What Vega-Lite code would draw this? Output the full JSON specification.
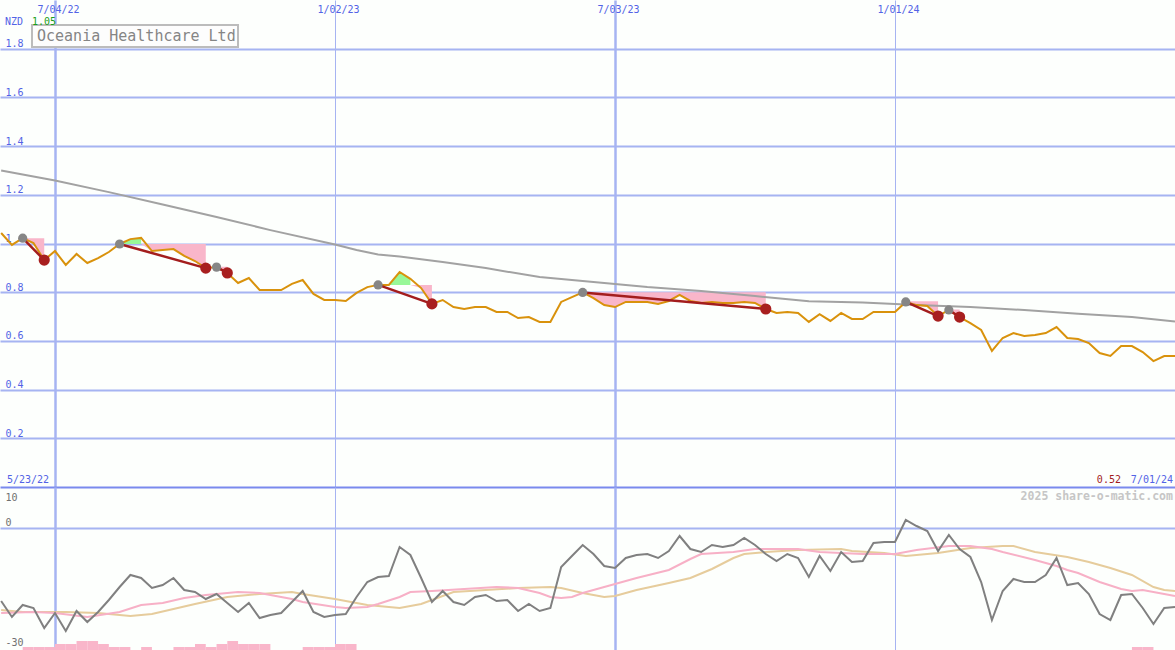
{
  "$schema": "https://vega.github.io/schema/vega-lite/v6.json",
  "background": "#fdfffd",
  "padding": 0,
  "spacing": 0,
  "config": {
    "view": {"stroke": null},
    "font": "DejaVu Sans Mono",
    "axis": {"domain": false, "ticks": false, "tickSize": 0, "labelFont": "DejaVu Sans Mono", "labelFontSize": 10, "labelOverlap": false, "labelFlush": false}
  },
  "datasets": {
    "w": [
      {"d":"2022-05-30","p":1.043,"o":-18.25},{"d":"2022-06-06","p":0.994,"o":-22.25},{"d":"2022-06-13","p":1.022,"o":-19.25},{"d":"2022-06-20","p":1.002,"o":-20},
      {"d":"2022-06-27","p":0.932,"o":-25},{"d":"2022-07-04","p":0.969,"o":-21.25},{"d":"2022-07-11","p":0.912,"o":-25.75},{"d":"2022-07-18","p":0.957,"o":-20.75},
      {"d":"2022-07-25","p":0.920,"o":-23.5},{"d":"2022-08-01","p":0.940,"o":-21},{"d":"2022-08-08","p":0.965,"o":-18},{"d":"2022-08-15","p":0.998,"o":-14.75},
      {"d":"2022-08-22","p":1.018,"o":-11.75},{"d":"2022-08-29","p":1.023,"o":-12.5},{"d":"2022-09-05","p":0.969,"o":-15},{"d":"2022-09-12","p":0.973,"o":-14.25},
      {"d":"2022-09-19","p":0.977,"o":-12.5},{"d":"2022-09-26","p":0.949,"o":-15.5},{"d":"2022-10-03","p":0.928,"o":-16},{"d":"2022-10-10","p":0.899,"o":-17.75},
      {"d":"2022-10-17","p":0.903,"o":-16.5},{"d":"2022-10-24","p":0.879,"o":-18.75},{"d":"2022-10-31","p":0.838,"o":-21},{"d":"2022-11-07","p":0.858,"o":-18.75},
      {"d":"2022-11-14","p":0.809,"o":-22.5},{"d":"2022-11-21","p":0.809,"o":-21.75},{"d":"2022-11-28","p":0.809,"o":-21.25},{"d":"2022-12-05","p":0.834,"o":-18.5},
      {"d":"2022-12-12","p":0.850,"o":-15.75},{"d":"2022-12-19","p":0.793,"o":-21},{"d":"2022-12-26","p":0.768,"o":-22.25},{"d":"2023-01-02","p":0.768,"o":-21.75},
      {"d":"2023-01-09","p":0.764,"o":-21.5},{"d":"2023-01-16","p":0.797,"o":-17.25},{"d":"2023-01-23","p":0.821,"o":-13.5},{"d":"2023-01-30","p":0.830,"o":-12.25},
      {"d":"2023-02-06","p":0.830,"o":-12},{"d":"2023-02-13","p":0.883,"o":-4.75},{"d":"2023-02-20","p":0.855,"o":-6.75},{"d":"2023-02-27","p":0.817,"o":-12.5},
      {"d":"2023-03-06","p":0.752,"o":-18.5},{"d":"2023-03-13","p":0.768,"o":-15.75},{"d":"2023-03-20","p":0.739,"o":-18.5},{"d":"2023-03-27","p":0.731,"o":-19.25},
      {"d":"2023-04-03","p":0.739,"o":-17.25},{"d":"2023-04-10","p":0.739,"o":-16.75},{"d":"2023-04-17","p":0.719,"o":-18.25},{"d":"2023-04-24","p":0.719,"o":-18},
      {"d":"2023-05-01","p":0.694,"o":-20.75},{"d":"2023-05-08","p":0.698,"o":-19},{"d":"2023-05-15","p":0.678,"o":-20.75},{"d":"2023-05-22","p":0.678,"o":-20},
      {"d":"2023-05-29","p":0.760,"o":-9.75},{"d":"2023-06-05","p":0.780,"o":-7},{"d":"2023-06-12","p":0.799,"o":-4.25},{"d":"2023-06-19","p":0.776,"o":-6.5},
      {"d":"2023-06-26","p":0.747,"o":-9.5},{"d":"2023-07-03","p":0.739,"o":-10},{"d":"2023-07-10","p":0.760,"o":-7.5},{"d":"2023-07-17","p":0.760,"o":-6.75},
      {"d":"2023-07-24","p":0.760,"o":-6.5},{"d":"2023-07-31","p":0.752,"o":-7.5},{"d":"2023-08-07","p":0.764,"o":-5.75},{"d":"2023-08-14","p":0.789,"o":-2},
      {"d":"2023-08-21","p":0.764,"o":-5.25},{"d":"2023-08-28","p":0.756,"o":-6},{"d":"2023-09-04","p":0.760,"o":-4.25},{"d":"2023-09-11","p":0.756,"o":-4.75},
      {"d":"2023-09-18","p":0.756,"o":-4.25},{"d":"2023-09-25","p":0.760,"o":-2.5},{"d":"2023-10-02","p":0.756,"o":-4.25},{"d":"2023-10-09","p":0.731,"o":-6.5},
      {"d":"2023-10-16","p":0.715,"o":-8.25},{"d":"2023-10-23","p":0.719,"o":-6.5},{"d":"2023-10-30","p":0.715,"o":-7.5},{"d":"2023-11-06","p":0.678,"o":-12.25},
      {"d":"2023-11-13","p":0.710,"o":-7},{"d":"2023-11-20","p":0.682,"o":-10.75},{"d":"2023-11-27","p":0.715,"o":-6},{"d":"2023-12-04","p":0.690,"o":-8.5},
      {"d":"2023-12-11","p":0.690,"o":-8.25},{"d":"2023-12-18","p":0.719,"o":-3.75},{"d":"2023-12-25","p":0.719,"o":-3.5},{"d":"2024-01-01","p":0.719,"o":-3.5},
      {"d":"2024-01-08","p":0.760,"o":2},{"d":"2024-01-15","p":0.747,"o":0.5},{"d":"2024-01-22","p":0.743,"o":-0.75},{"d":"2024-01-29","p":0.702,"o":-5.75},
      {"d":"2024-02-05","p":0.727,"o":-1.75},{"d":"2024-02-12","p":0.698,"o":-5.25},{"d":"2024-02-19","p":0.673,"o":-7.25},{"d":"2024-02-26","p":0.645,"o":-13.5},
      {"d":"2024-03-04","p":0.559,"o":-23},{"d":"2024-03-11","p":0.612,"o":-15.75},{"d":"2024-03-18","p":0.632,"o":-12.75},{"d":"2024-03-25","p":0.620,"o":-13.5},
      {"d":"2024-04-01","p":0.624,"o":-13.5},{"d":"2024-04-08","p":0.632,"o":-11.75},{"d":"2024-04-15","p":0.657,"o":-7.5},{"d":"2024-04-22","p":0.612,"o":-14.25},
      {"d":"2024-04-29","p":0.608,"o":-13.75},{"d":"2024-05-06","p":0.591,"o":-16.5},{"d":"2024-05-13","p":0.550,"o":-21.5},{"d":"2024-05-20","p":0.538,"o":-23},
      {"d":"2024-05-27","p":0.579,"o":-16.75},{"d":"2024-06-03","p":0.579,"o":-16.5},{"d":"2024-06-10","p":0.554,"o":-20},{"d":"2024-06-17","p":0.517,"o":-24},
      {"d":"2024-06-24","p":0.538,"o":-20},{"d":"2024-07-01","p":0.538,"o":-19.75}
    ],
    "ma": [
      {"d":"2022-05-30","v":1.300},{"d":"2022-07-04","v":1.259},{"d":"2022-08-08","v":1.211},{"d":"2022-09-12","v":1.160},
      {"d":"2022-10-17","v":1.109},{"d":"2022-11-21","v":1.055},{"d":"2023-01-02","v":0.996},{"d":"2023-01-16","v":0.973},
      {"d":"2023-01-30","v":0.955},{"d":"2023-02-13","v":0.947},{"d":"2023-03-13","v":0.924},{"d":"2023-04-10","v":0.899},
      {"d":"2023-05-15","v":0.862},{"d":"2023-06-19","v":0.842},{"d":"2023-07-24","v":0.821},{"d":"2023-08-28","v":0.805},
      {"d":"2023-10-02","v":0.784},{"d":"2023-11-06","v":0.763},{"d":"2023-12-11","v":0.758},{"d":"2024-01-15","v":0.747},
      {"d":"2024-02-19","v":0.739},{"d":"2024-03-25","v":0.727},{"d":"2024-04-29","v":0.712},{"d":"2024-06-03","v":0.698},
      {"d":"2024-07-01","v":0.680}
    ],
    "shade": [
      {"s":"p1","k":"loss","d":"2022-06-13","t":1.022,"b":1.022},{"s":"p1","k":"loss","d":"2022-06-20","t":1.022,"b":1.002},{"s":"p1","k":"loss","d":"2022-06-27","t":1.022,"b":0.932},
      {"s":"g1","k":"gain","d":"2022-08-15","t":0.998,"b":0.998},{"s":"g1","k":"gain","d":"2022-08-22","t":1.018,"b":0.998},{"s":"g1","k":"gain","d":"2022-08-29","t":1.023,"b":0.998},
      {"s":"p2","k":"loss","d":"2022-08-29","t":0.998,"b":0.998},{"s":"p2","k":"loss","d":"2022-09-05","t":0.998,"b":0.969},{"s":"p2","k":"loss","d":"2022-09-12","t":0.998,"b":0.973},
      {"s":"p2","k":"loss","d":"2022-09-19","t":0.998,"b":0.977},{"s":"p2","k":"loss","d":"2022-09-26","t":0.998,"b":0.949},{"s":"p2","k":"loss","d":"2022-10-03","t":0.998,"b":0.928},
      {"s":"p2","k":"loss","d":"2022-10-10","t":0.998,"b":0.899},
      {"s":"p3","k":"loss","d":"2022-10-17","t":0.905,"b":0.903},{"s":"p3","k":"loss","d":"2022-10-24","t":0.905,"b":0.879},
      {"s":"g2","k":"gain","d":"2023-02-06","t":0.830,"b":0.830},{"s":"g2","k":"gain","d":"2023-02-13","t":0.883,"b":0.830},{"s":"g2","k":"gain","d":"2023-02-20","t":0.855,"b":0.830},
      {"s":"p4","k":"loss","d":"2023-02-20","t":0.830,"b":0.830},{"s":"p4","k":"loss","d":"2023-02-27","t":0.830,"b":0.817},{"s":"p4","k":"loss","d":"2023-03-06","t":0.830,"b":0.752},
      {"s":"p5","k":"loss","d":"2023-06-12","t":0.800,"b":0.799},{"s":"p5","k":"loss","d":"2023-06-19","t":0.800,"b":0.776},{"s":"p5","k":"loss","d":"2023-06-26","t":0.800,"b":0.747},
      {"s":"p5","k":"loss","d":"2023-07-03","t":0.800,"b":0.739},{"s":"p5","k":"loss","d":"2023-07-10","t":0.800,"b":0.760},{"s":"p5","k":"loss","d":"2023-07-17","t":0.800,"b":0.760},
      {"s":"p5","k":"loss","d":"2023-07-24","t":0.800,"b":0.760},{"s":"p5","k":"loss","d":"2023-07-31","t":0.800,"b":0.752},{"s":"p5","k":"loss","d":"2023-08-07","t":0.800,"b":0.764},
      {"s":"p5","k":"loss","d":"2023-08-14","t":0.800,"b":0.789},{"s":"p5","k":"loss","d":"2023-08-21","t":0.800,"b":0.764},{"s":"p5","k":"loss","d":"2023-08-28","t":0.800,"b":0.756},
      {"s":"p5","k":"loss","d":"2023-09-04","t":0.800,"b":0.760},{"s":"p5","k":"loss","d":"2023-09-11","t":0.800,"b":0.756},{"s":"p5","k":"loss","d":"2023-09-18","t":0.800,"b":0.756},
      {"s":"p5","k":"loss","d":"2023-09-25","t":0.800,"b":0.760},{"s":"p5","k":"loss","d":"2023-10-02","t":0.800,"b":0.756},{"s":"p5","k":"loss","d":"2023-10-09","t":0.800,"b":0.731},
      {"s":"p6","k":"loss","d":"2024-01-08","t":0.763,"b":0.760},{"s":"p6","k":"loss","d":"2024-01-15","t":0.763,"b":0.747},{"s":"p6","k":"loss","d":"2024-01-22","t":0.763,"b":0.743},
      {"s":"p6","k":"loss","d":"2024-01-29","t":0.763,"b":0.702},
      {"s":"p7","k":"loss","d":"2024-02-05","t":0.729,"b":0.727},{"s":"p7","k":"loss","d":"2024-02-12","t":0.729,"b":0.698}
    ],
    "trend": [
      {"s":"t1","r":"start","d":"2022-06-13","v":1.022},{"s":"t1","r":"end","d":"2022-06-27","v":0.932},
      {"s":"t2","r":"start","d":"2022-08-15","v":0.998},{"s":"t2","r":"end","d":"2022-10-10","v":0.899},
      {"s":"t3","r":"start","d":"2022-10-17","v":0.903},{"s":"t3","r":"end","d":"2022-10-24","v":0.879},
      {"s":"t4","r":"start","d":"2023-01-30","v":0.830},{"s":"t4","r":"end","d":"2023-03-06","v":0.752},
      {"s":"t5","r":"start","d":"2023-06-12","v":0.799},{"s":"t5","r":"end","d":"2023-10-09","v":0.731},
      {"s":"t6","r":"start","d":"2024-01-08","v":0.760},{"s":"t6","r":"end","d":"2024-01-29","v":0.702},
      {"s":"t7","r":"start","d":"2024-02-05","v":0.727},{"s":"t7","r":"end","d":"2024-02-12","v":0.698}
    ],
    "pk": [
      {"d":"2022-05-30","v":-21.25},{"d":"2022-06-20","v":-21},{"d":"2022-07-04","v":-21.25},{"d":"2022-07-25","v":-22.25},
      {"d":"2022-08-15","v":-21},{"d":"2022-08-29","v":-19.25},{"d":"2022-09-12","v":-18.75},{"d":"2022-09-26","v":-17.5},
      {"d":"2022-10-10","v":-16.75},{"d":"2022-10-31","v":-16},{"d":"2022-11-14","v":-16.25},{"d":"2022-11-21","v":-16.75},
      {"d":"2022-12-05","v":-17.75},{"d":"2022-12-12","v":-18.5},{"d":"2023-01-02","v":-19.75},{"d":"2023-01-09","v":-20},
      {"d":"2023-01-23","v":-19.75},{"d":"2023-01-30","v":-19},{"d":"2023-02-13","v":-17.25},{"d":"2023-02-20","v":-16},
      {"d":"2023-03-06","v":-15.75},{"d":"2023-03-27","v":-15.25},{"d":"2023-04-17","v":-14.75},{"d":"2023-05-01","v":-15},
      {"d":"2023-05-15","v":-16.25},{"d":"2023-05-22","v":-17.25},{"d":"2023-05-29","v":-17.5},{"d":"2023-06-05","v":-17.25},
      {"d":"2023-06-12","v":-16.25},{"d":"2023-07-03","v":-14},{"d":"2023-07-17","v":-12.5},{"d":"2023-08-07","v":-10.5},
      {"d":"2023-08-21","v":-7.75},{"d":"2023-08-28","v":-6.5},{"d":"2023-09-18","v":-6},{"d":"2023-10-02","v":-5.25},
      {"d":"2023-10-30","v":-5.25},{"d":"2023-11-13","v":-6},{"d":"2023-11-27","v":-6.25},{"d":"2023-12-11","v":-6.5},
      {"d":"2024-01-01","v":-6.5},{"d":"2024-01-15","v":-5.5},{"d":"2024-02-05","v":-4.5},{"d":"2024-02-19","v":-4.5},
      {"d":"2024-03-04","v":-5.25},{"d":"2024-03-11","v":-6},{"d":"2024-04-01","v":-8},{"d":"2024-04-15","v":-9.5},
      {"d":"2024-04-22","v":-10.5},{"d":"2024-04-29","v":-11.25},{"d":"2024-05-13","v":-13.5},{"d":"2024-05-27","v":-15.25},
      {"d":"2024-06-03","v":-15.75},{"d":"2024-06-10","v":-15.5},{"d":"2024-06-24","v":-16.5},{"d":"2024-07-01","v":-17}
    ],
    "tn": [
      {"d":"2022-05-30","v":-20.5},{"d":"2022-06-13","v":-21},{"d":"2022-07-11","v":-21},{"d":"2022-08-01","v":-21.25},
      {"d":"2022-08-22","v":-22},{"d":"2022-09-05","v":-21.5},{"d":"2022-09-19","v":-20.25},{"d":"2022-10-03","v":-19},
      {"d":"2022-10-24","v":-17.25},{"d":"2022-11-14","v":-16.5},{"d":"2022-12-05","v":-16},{"d":"2022-12-12","v":-16.5},
      {"d":"2023-01-02","v":-17.75},{"d":"2023-01-16","v":-18.75},{"d":"2023-01-23","v":-19.25},{"d":"2023-02-13","v":-20},
      {"d":"2023-02-27","v":-19},{"d":"2023-03-20","v":-16},{"d":"2023-04-10","v":-15.5},{"d":"2023-05-01","v":-15},
      {"d":"2023-05-22","v":-14.75},{"d":"2023-05-29","v":-15},{"d":"2023-06-12","v":-16.25},{"d":"2023-06-26","v":-17.25},
      {"d":"2023-07-03","v":-17},{"d":"2023-07-17","v":-15.5},{"d":"2023-08-07","v":-13.75},{"d":"2023-08-21","v":-12.5},
      {"d":"2023-09-04","v":-10.25},{"d":"2023-09-18","v":-7.5},{"d":"2023-09-25","v":-6.5},{"d":"2023-10-09","v":-6},
      {"d":"2023-10-30","v":-5.5},{"d":"2023-11-27","v":-5.25},{"d":"2023-12-04","v":-5.75},{"d":"2023-12-25","v":-6.25},
      {"d":"2024-01-08","v":-7},{"d":"2024-01-29","v":-6.25},{"d":"2024-02-19","v":-5},{"d":"2024-03-11","v":-4.5},
      {"d":"2024-03-18","v":-4.5},{"d":"2024-04-01","v":-6},{"d":"2024-04-22","v":-7.25},{"d":"2024-05-06","v":-8.5},
      {"d":"2024-05-20","v":-10},{"d":"2024-06-03","v":-11.75},{"d":"2024-06-17","v":-14.75},{"d":"2024-06-24","v":-15.5},
      {"d":"2024-07-01","v":-15.75}
    ],
    "vol": [
      {"d":"2022-06-13","e":"2022-06-20","v":-29.75},{"d":"2022-06-20","e":"2022-06-27","v":-29.75},{"d":"2022-06-27","e":"2022-07-04","v":-29.75},
      {"d":"2022-07-04","e":"2022-07-11","v":-29},{"d":"2022-07-11","e":"2022-07-18","v":-29},{"d":"2022-07-18","e":"2022-07-25","v":-28.25},
      {"d":"2022-07-25","e":"2022-08-01","v":-28.25},{"d":"2022-08-01","e":"2022-08-08","v":-29},{"d":"2022-08-08","e":"2022-08-15","v":-29.75},
      {"d":"2022-08-15","e":"2022-08-22","v":-29.75},{"d":"2022-08-29","e":"2022-09-05","v":-29.75},{"d":"2022-09-19","e":"2022-09-26","v":-29.75},
      {"d":"2022-09-26","e":"2022-10-03","v":-29.75},{"d":"2022-10-03","e":"2022-10-10","v":-29},{"d":"2022-10-10","e":"2022-10-17","v":-29.75},
      {"d":"2022-10-17","e":"2022-10-24","v":-29},{"d":"2022-10-24","e":"2022-10-31","v":-28.25},{"d":"2022-10-31","e":"2022-11-07","v":-29},
      {"d":"2022-11-07","e":"2022-11-14","v":-29},{"d":"2022-11-14","e":"2022-11-21","v":-29},{"d":"2022-12-12","e":"2022-12-19","v":-29.75},
      {"d":"2022-12-19","e":"2022-12-26","v":-29.75},{"d":"2022-12-26","e":"2023-01-02","v":-29.75},{"d":"2023-01-02","e":"2023-01-09","v":-29},
      {"d":"2023-01-09","e":"2023-01-16","v":-29},{"d":"2024-06-03","e":"2024-06-10","v":-29.75},{"d":"2024-06-10","e":"2024-06-17","v":-29.75}
    ]
  },
  "vconcat": [
    {
      "width": 1175,
      "height": 487,
      "layer": [
        {
          "data": {"name": "shade"},
          "mark": {"type": "area", "opacity": 1, "clip": true},
          "encoding": {
            "x": {"field": "d", "type": "temporal", "title": null},
            "y": {"field": "t", "type": "quantitative", "title": null},
            "y2": {"field": "b"},
            "detail": {"field": "s"},
            "color": {"field": "k", "type": "nominal", "legend": null, "scale": {"domain": ["loss", "gain"], "range": ["#f9b6ca", "#98f898"]}}
          }
        },
        {
          "data": {"name": "ma"},
          "mark": {"type": "line", "color": "#a2a2a2", "strokeWidth": 2, "clip": true},
          "encoding": {
            "x": {"field": "d", "type": "temporal", "title": null},
            "y": {"field": "v", "type": "quantitative", "title": null}
          }
        },
        {
          "data": {"name": "w"},
          "mark": {"type": "line", "color": "#d9920c", "strokeWidth": 2, "clip": true},
          "encoding": {
            "x": {
              "field": "d", "type": "temporal", "title": null,
              "scale": {"type": "utc", "domain": [{"year": 2022, "month": 5, "date": 29, "hours": 6, "utc": true}, {"year": 2024, "month": 7, "date": 1, "utc": true}]},
              "axis": {
                "orient": "top",
                "values": [{"year": 2022, "month": 7, "date": 4, "utc": true}, {"year": 2023, "month": 1, "date": 2, "utc": true}, {"year": 2023, "month": 7, "date": 3, "utc": true}, {"year": 2024, "month": 1, "date": 1, "utc": true}],
                "labelExpr": "utcFormat(datum.value, '%-m/%d/%y')",
                "labelColor": "#5263e6", "labelPadding": -12, "labelBaseline": "alphabetic", "labelOffset": 3,
                "grid": true, "gridColor": "#a6b4f2",
                "gridWidth": {"condition": {"test": "utcmonth(datum.value) == 6", "value": 2.5}, "value": 1}
              }
            },
            "y": {
              "field": "p", "type": "quantitative", "title": null,
              "scale": {"domain": [0, 2], "nice": false, "zero": false},
              "axis": {
                "values": [0, 0.2, 0.4, 0.6, 0.8, 1, 1.2, 1.4, 1.6, 1.8],
                "labelExpr": "datum.value == 0 ? '' : toString(datum.value)",
                "labelAlign": "left", "labelPadding": -5, "labelBaseline": "alphabetic", "labelOffset": -2,
                "labelColor": "#5263e6",
                "grid": true, "gridWidth": 2,
                "gridColor": {"condition": {"test": "datum.value == 0", "value": "#7a8aee"}, "value": "#a6b4f2"}
              }
            }
          }
        },
        {
          "data": {"name": "trend"},
          "mark": {"type": "line", "color": "#a31d1d", "strokeWidth": 2.5, "clip": true},
          "encoding": {
            "x": {"field": "d", "type": "temporal", "title": null},
            "y": {"field": "v", "type": "quantitative", "title": null},
            "detail": {"field": "s"}
          }
        },
        {
          "data": {"name": "trend"},
          "transform": [{"filter": "datum.r == 'start'"}],
          "mark": {"type": "circle", "color": "#868686", "opacity": 1, "size": 85},
          "encoding": {
            "x": {"field": "d", "type": "temporal", "title": null},
            "y": {"field": "v", "type": "quantitative", "title": null}
          }
        },
        {
          "data": {"name": "trend"},
          "transform": [{"filter": "datum.r == 'end'"}],
          "mark": {"type": "circle", "color": "#a81f1f", "opacity": 1, "size": 125},
          "encoding": {
            "x": {"field": "d", "type": "temporal", "title": null},
            "y": {"field": "v", "type": "quantitative", "title": null}
          }
        },
        {
          "data": {"values": [{}]},
          "mark": {"type": "rect", "fill": "#fdfdfd", "stroke": "#bcbcbc", "strokeWidth": 2},
          "encoding": {
            "x": {"datum": {"year": 2022, "month": 6, "date": 19, "hours": 1, "utc": true}, "type": "temporal"},
            "x2": {"datum": {"year": 2022, "month": 10, "date": 30, "hours": 23, "utc": true}},
            "y": {"datum": 1.897},
            "y2": {"datum": 1.807}
          }
        },
        {
          "data": {"values": [{}]},
          "mark": {"type": "text", "text": "Oceania Healthcare Ltd", "font": "DejaVu Sans Mono", "fontSize": 15, "color": "#858585", "align": "left", "baseline": "middle"},
          "encoding": {
            "x": {"datum": {"year": 2022, "month": 6, "date": 22, "hours": 7, "utc": true}, "type": "temporal"},
            "y": {"datum": 1.852}
          }
        },
        {
          "data": {"values": [{}]},
          "mark": {"type": "text", "text": "NZD", "fontSize": 10, "color": "#5263e6", "align": "left", "baseline": "alphabetic"},
          "encoding": {
            "x": {"datum": {"year": 2022, "month": 6, "date": 1, "hours": 12, "utc": true}, "type": "temporal"},
            "y": {"datum": 1.899}
          }
        },
        {
          "data": {"values": [{}]},
          "mark": {"type": "text", "text": "1.05", "fontSize": 10, "color": "#1aa01a", "align": "left", "baseline": "alphabetic"},
          "encoding": {
            "x": {"datum": {"year": 2022, "month": 6, "date": 19, "hours": 1, "utc": true}, "type": "temporal"},
            "y": {"datum": 1.899}
          }
        },
        {
          "data": {"values": [{}]},
          "mark": {"type": "text", "text": "5/23/22", "fontSize": 10, "color": "#5263e6", "align": "left", "baseline": "alphabetic"},
          "encoding": {
            "x": {"datum": {"year": 2022, "month": 6, "date": 2, "hours": 19, "utc": true}, "type": "temporal"},
            "y": {"datum": 0.016}
          }
        },
        {
          "data": {"values": [{}]},
          "mark": {"type": "text", "text": "0.52", "fontSize": 10, "color": "#a31d1d", "align": "right", "baseline": "alphabetic"},
          "encoding": {
            "x": {"datum": {"year": 2024, "month": 5, "date": 26, "hours": 21, "utc": true}, "type": "temporal"},
            "y": {"datum": 0.016}
          }
        },
        {
          "data": {"values": [{}]},
          "mark": {"type": "text", "text": "7/01/24", "fontSize": 10, "color": "#5263e6", "align": "right", "baseline": "alphabetic"},
          "encoding": {
            "x": {"datum": {"year": 2024, "month": 6, "date": 29, "hours": 17, "utc": true}, "type": "temporal"},
            "y": {"datum": 0.016}
          }
        }
      ]
    },
    {
      "width": 1175,
      "height": 163,
      "layer": [
        {
          "data": {"name": "vol"},
          "mark": {"type": "rect", "color": "#f9b6ca", "clip": true},
          "encoding": {
            "x": {"field": "d", "type": "temporal", "title": null},
            "x2": {"field": "e"},
            "y": {"field": "v", "type": "quantitative", "title": null},
            "y2": {"datum": -30.5}
          }
        },
        {
          "data": {"name": "tn"},
          "mark": {"type": "line", "color": "#e6cc9c", "strokeWidth": 2, "clip": true},
          "encoding": {
            "x": {"field": "d", "type": "temporal", "title": null},
            "y": {"field": "v", "type": "quantitative", "title": null}
          }
        },
        {
          "data": {"name": "pk"},
          "mark": {"type": "line", "color": "#f7b0c6", "strokeWidth": 2, "clip": true},
          "encoding": {
            "x": {"field": "d", "type": "temporal", "title": null},
            "y": {"field": "v", "type": "quantitative", "title": null}
          }
        },
        {
          "data": {"name": "w"},
          "mark": {"type": "line", "color": "#808080", "strokeWidth": 2, "clip": true},
          "encoding": {
            "x": {
              "field": "d", "type": "temporal", "title": null,
              "scale": {"type": "utc", "domain": [{"year": 2022, "month": 5, "date": 29, "hours": 6, "utc": true}, {"year": 2024, "month": 7, "date": 1, "utc": true}]},
              "axis": {
                "orient": "bottom",
                "values": [{"year": 2022, "month": 7, "date": 4, "utc": true}, {"year": 2023, "month": 1, "date": 2, "utc": true}, {"year": 2023, "month": 7, "date": 3, "utc": true}, {"year": 2024, "month": 1, "date": 1, "utc": true}],
                "labels": false,
                "grid": true, "gridColor": "#a6b4f2",
                "gridWidth": {"condition": {"test": "utcmonth(datum.value) == 6", "value": 2.5}, "value": 1}
              }
            },
            "y": {
              "field": "o", "type": "quantitative", "title": null,
              "scale": {"domain": [-30.5, 10.25], "nice": false, "zero": false},
              "axis": {
                "values": [10, 0, -30],
                "labelExpr": "toString(datum.value)",
                "labelAlign": "left", "labelPadding": -5, "labelBaseline": "alphabetic",
                "labelOffset": {"condition": {"test": "datum.value == 10", "value": 12}, "value": -3},
                "labelColor": "#707070",
                "grid": true, "gridWidth": 2,
                "gridColor": {"condition": {"test": "datum.value == 0", "value": "#a6b4f2"}, "value": "transparent"}
              }
            }
          }
        },
        {
          "data": {"values": [{}]},
          "mark": {"type": "text", "text": "2025 share-o-matic.com", "fontSize": 11.5, "fontWeight": "bold", "color": "#c6c6c6", "align": "right", "baseline": "alphabetic"},
          "encoding": {
            "x": {"datum": {"year": 2024, "month": 6, "date": 29, "hours": 16, "utc": true}, "type": "temporal"},
            "y": {"datum": 7}
          }
        }
      ]
    }
  ]
}
